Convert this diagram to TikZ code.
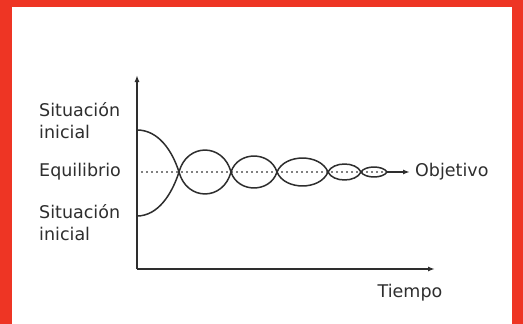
\documentclass[tikz,border=0pt]{standalone}
\usepackage{fontspec}
\setmainfont{DejaVu Sans}
\usetikzlibrary{arrows.meta}
\definecolor{FrameRed}{HTML}{EE3524}
\definecolor{InkGray}{HTML}{2E2E2E}

\begin{document}
\begin{tikzpicture}[x=1pt, y=-1pt, >={Latex[length=7pt,width=5pt]},
    axis/.style={line width=1.8pt, InkGray},
    curve/.style={line width=1.5pt, InkGray},
    tag/.style={text=InkGray, font=\fontsize{17.5}{22}\selectfont, inner sep=0pt, align=left}]
    % Red frame around the white sheet
    \fill[FrameRed] (0,0) rectangle (523,324);
    \fill[white] (12,7) rectangle (512,324);
    \useasboundingbox (0,0) rectangle (523,324);

    % Coordinates
    \coordinate (O) at (137,269);
    \coordinate (Ytop) at (137,75);
    \coordinate (Xend) at (435,269);
    \coordinate (E0) at (141,172);
    \coordinate (C0) at (179,172);
    \coordinate (C5) at (387,172);

    % Axes
    \draw[->, axis] (O) -- (Ytop);
    \draw[->, axis] (O) -- (Xend);

    % Labels
    \node[tag, anchor=west] (inicialA) at (39,121) {Situación\\inicial};
    \node[tag, anchor=west] (equil) at (39,172) {Equilibrio};
    \node[tag, anchor=west] (inicialB) at (39,223) {Situación\\inicial};
    \node[tag, anchor=west] (objetivo) at (415,172) {Objetivo};
    \node[tag] (tiempo) at (410,293) {Tiempo};

    % Equilibrium line
    \draw[dash pattern=on 2pt off 3pt, line width=1.2pt, gray] (E0) -- (C5);
    \draw[->, curve] (C5) -- ([xshift=-5pt]objetivo.west);

    % Starting curves from both initial situations
    \draw[curve] (137,130) .. controls (158,130) and (172,150) .. (C0);
    \draw[curve] (137,216) .. controls (158,216) and (172,194) .. (C0);

    % Damped oscillation around equilibrium
    \foreach \a/\b/\h in {179/231/22, 231/277/16, 277/328/14, 328/361/8, 361/387/5} {
        \draw[curve] (\a,172) .. controls ({\a+0.15*(\b-\a)},{172-1.33*\h}) and ({\b-0.15*(\b-\a)},{172-1.33*\h}) .. (\b,172);
        \draw[curve] (\a,172) .. controls ({\a+0.15*(\b-\a)},{172+1.33*\h}) and ({\b-0.15*(\b-\a)},{172+1.33*\h}) .. (\b,172);
    }
\end{tikzpicture}
\end{document}
